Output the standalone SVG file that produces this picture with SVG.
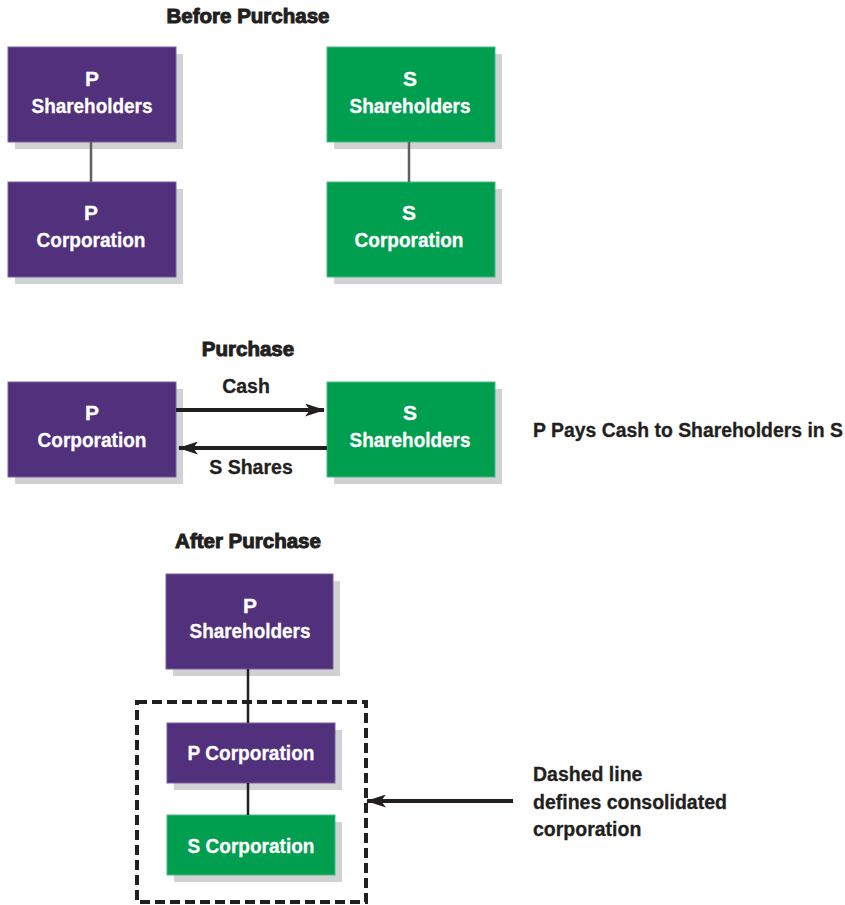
<svg xmlns="http://www.w3.org/2000/svg" width="845" height="905" viewBox="0 0 845 905">
  <defs>
    <style>
      text { font-family: "Liberation Sans", Arial, sans-serif; font-weight: bold; }
      .title { font-size: 20.5px; fill: #231f20; stroke: #231f20; stroke-width: 1; text-anchor: middle; }
      .lbl { font-size: 19.5px; fill: #231f20; stroke: #231f20; stroke-width: 0.3; }
      .mid { text-anchor: middle; }
      .in { font-size: 21px; fill: #ffffff; stroke: #ffffff; stroke-width: 0.3; text-anchor: middle; }
      .shadow { fill: #d1d2d4; }
      .p { fill: #51307c; stroke: #7a5fa0; stroke-width: 1; }
      .s { fill: #009e4f; stroke: #4dbb84; stroke-width: 1; }
      .link { stroke: #5f5f5f; stroke-width: 2.5; fill: none; }
      .linkdark { stroke: #231f20; stroke-width: 2.5; fill: none; }
      .flow { stroke: #231f20; stroke-width: 4; fill: none; }
      .dash { stroke: #231f20; stroke-width: 4; fill: none; stroke-dasharray: 10 5; }
    </style>
    <marker id="headBig" viewBox="0 0 20 13" refX="19" refY="6.5" markerWidth="20" markerHeight="13" markerUnits="userSpaceOnUse" orient="auto">
      <path d="M0,0 L20,6.5 L0,13 L5,6.5 Z" fill="#231f20"/>
    </marker>
  </defs>

  <rect width="845" height="905" fill="#ffffff"/>

  <!-- section titles -->
  <text class="title" x="248" y="23">Before Purchase</text>
  <text class="title" x="248" y="356">Purchase</text>
  <text class="title" x="248" y="548">After Purchase</text>

  <!-- before purchase -->
  <g id="before-p-shareholders">
    <rect class="shadow" x="15" y="54" width="168" height="95"/>
    <rect class="p" x="8" y="47" width="168" height="95"/>
    <text class="in" x="92" y="86">P</text>
    <text class="in" x="92" y="113" textLength="121" lengthAdjust="spacingAndGlyphs">Shareholders</text>
  </g>
  <g id="before-p-corporation">
    <rect class="shadow" x="15" y="189" width="168" height="95"/>
    <rect class="p" x="8" y="182" width="168" height="95"/>
    <text class="in" x="91" y="220">P</text>
    <text class="in" x="91" y="247" textLength="109" lengthAdjust="spacingAndGlyphs">Corporation</text>
  </g>
  <g id="before-s-shareholders">
    <rect class="shadow" x="334" y="54" width="168" height="95"/>
    <rect class="s" x="327" y="47" width="168" height="95"/>
    <text class="in" x="410" y="86">S</text>
    <text class="in" x="410" y="113" textLength="121" lengthAdjust="spacingAndGlyphs">Shareholders</text>
  </g>
  <g id="before-s-corporation">
    <rect class="shadow" x="334" y="189" width="168" height="95"/>
    <rect class="s" x="327" y="182" width="168" height="95"/>
    <text class="in" x="409" y="220">S</text>
    <text class="in" x="409" y="247" textLength="109" lengthAdjust="spacingAndGlyphs">Corporation</text>
  </g>

  <!-- purchase -->
  <g id="purchase-p-corporation">
    <rect class="shadow" x="15" y="389" width="168" height="95"/>
    <rect class="p" x="8" y="382" width="168" height="95"/>
    <text class="in" x="92" y="420">P</text>
    <text class="in" x="92" y="447" textLength="109" lengthAdjust="spacingAndGlyphs">Corporation</text>
  </g>
  <g id="purchase-s-shareholders">
    <rect class="shadow" x="334" y="389" width="168" height="95"/>
    <rect class="s" x="327" y="382" width="168" height="95"/>
    <text class="in" x="410" y="420">S</text>
    <text class="in" x="410" y="447" textLength="121" lengthAdjust="spacingAndGlyphs">Shareholders</text>
  </g>
  <text class="lbl" x="533" y="437" textLength="310" lengthAdjust="spacingAndGlyphs">P Pays Cash to Shareholders in S</text>

  <!-- after purchase -->
  <g id="after-p-shareholders">
    <rect class="shadow" x="173" y="581" width="167" height="95"/>
    <rect class="p" x="166" y="574" width="167" height="95"/>
    <text class="in" x="250" y="613">P</text>
    <text class="in" x="250" y="638" textLength="121" lengthAdjust="spacingAndGlyphs">Shareholders</text>
  </g>
  <g id="consolidated-boundary">
    <rect class="dash" x="137" y="702" width="229" height="200"/>
  </g>
  <g id="after-p-corporation">
    <rect class="shadow" x="174" y="730" width="168" height="60"/>
    <rect class="p" x="167" y="723" width="168" height="60"/>
    <text class="in" x="251" y="760" textLength="127" lengthAdjust="spacingAndGlyphs">P Corporation</text>
  </g>
  <g id="after-s-corporation">
    <rect class="shadow" x="174" y="822" width="168" height="60"/>
    <rect class="s" x="167" y="815" width="168" height="60"/>
    <text class="in" x="251" y="853" textLength="127" lengthAdjust="spacingAndGlyphs">S Corporation</text>
  </g>

  <!-- connectors, drawn over the box shadows -->
  <g id="connectors">
    <line class="link" x1="91" y1="142" x2="91" y2="182"/>
    <line class="link" x1="409" y1="142" x2="409" y2="182"/>
    <line class="flow" x1="176" y1="410" x2="324" y2="410" marker-end="url(#headBig)"/>
    <line class="flow" x1="327" y1="448" x2="179" y2="448" marker-end="url(#headBig)"/>
    <line class="linkdark" x1="248" y1="669" x2="248" y2="723"/>
    <line class="linkdark" x1="248" y1="783" x2="248" y2="815"/>
    <line class="flow" x1="513" y1="801" x2="367" y2="801" marker-end="url(#headBig)"/>
  </g>

  <!-- edge labels -->
  <text class="lbl mid" x="246" y="393">Cash</text>
  <text class="lbl mid" x="251" y="474">S Shares</text>

  <text class="lbl" x="533" y="781">Dashed line</text>
  <text class="lbl" x="533" y="809">defines consolidated</text>
  <text class="lbl" x="533" y="836">corporation</text>
</svg>
